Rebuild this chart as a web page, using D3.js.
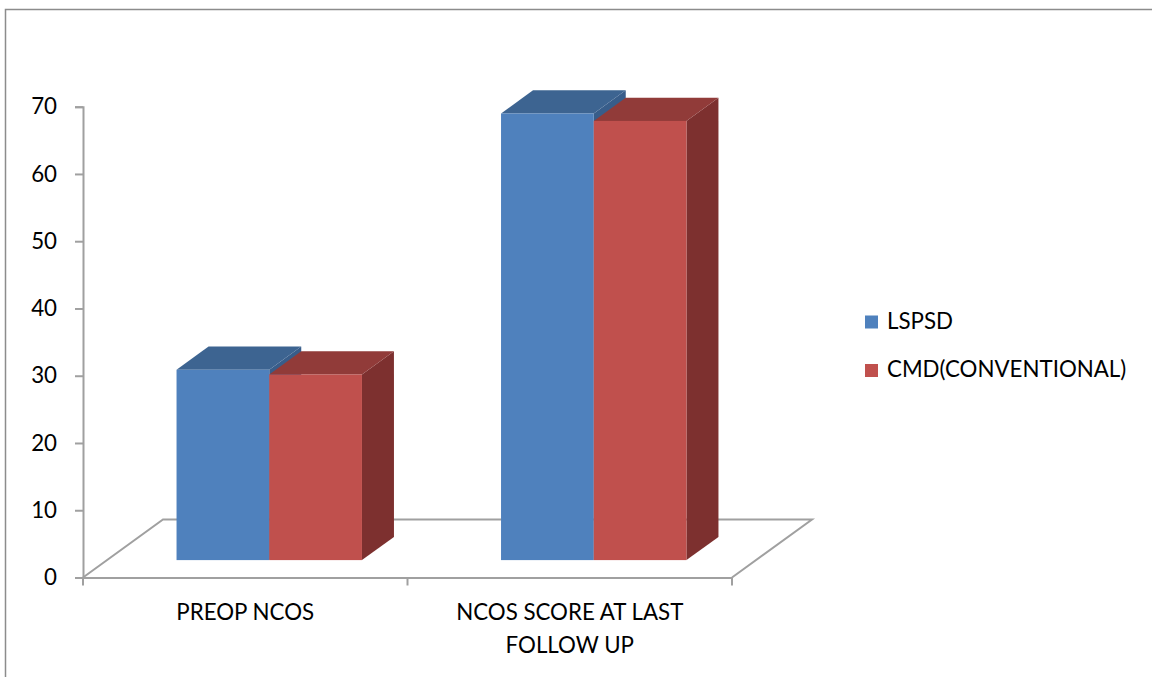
<!DOCTYPE html>
<html>
<head>
<meta charset="utf-8">
<script src="https://cdn.jsdelivr.net/npm/d3@7/dist/d3.min.js"></script>
<style>
  html, body { margin: 0; padding: 0; background: #fff; }
  svg { display: block; }
  text { font-family: Lato, "Open Sans", sans-serif; fill: #000; }
</style>
</head>
<body>
<svg id="chart" width="1152" height="677"></svg>
<script>
// NCOS scores by group
const categories = ["PREOP NCOS", "NCOS SCORE AT LAST FOLLOW UP"];
const seriesNames = ["LSPSD", "CMD(CONVENTIONAL)"];
const lspsd = [28.3, 66.4];
const cmd = [27.6, 65.3];
const yTicks = [0, 10, 20, 30, 40, 50, 60, 70];

const series = [
  { name: seriesNames[0], values: lspsd, front: "#4F81BD", top: "#3D6491", side: "#385D8A" },
  { name: seriesNames[1], values: cmd,   front: "#C0504D", top: "#913B39", side: "#7D302F" }
];

const svg = d3.select("#chart");

// Chart frame
svg.append("path")
  .attr("d", "M5.5,677 L5.5,9.5 L1152,9.5")
  .attr("fill", "none").attr("stroke", "#8c8c8c").attr("stroke-width", 1.5);

// Front-plane scales and the oblique depth vector of the floor
const y = d3.scaleLinear().domain([0, 70]).range([577.5, 106.7]);
const x = d3.scaleBand().domain(categories).range([83, 732]).paddingInner(0).paddingOuter(0);
const depth = { dx: 80, dy: -58 };
const gapWidth = 1.5, gapDepth = 1.5;
const barW = x.bandwidth() / (series.length + gapWidth);
const barDepth = 1 / (1 + 2 * gapDepth / 2);      // share of the floor depth
const frontFrac = (1 - barDepth) / 2;

const axisColor = "#a0a0a0";
const fontSize = "22.3px";

// Floor
const x0 = x.range()[0], x1 = x.range()[1], y0 = y(0);
svg.append("path")
  .attr("d", `M${x0},${y0} L${x0 + depth.dx},${y0 + depth.dy} L${x1 + depth.dx},${y0 + depth.dy} L${x1},${y0}`)
  .attr("fill", "none").attr("stroke", axisColor).attr("stroke-width", 2);

// Value axis
const yAxis = svg.append("g").attr("transform", `translate(${x0},0)`)
  .call(d3.axisLeft(y).tickValues(yTicks).tickSize(8).tickPadding(18).tickFormat(d3.format("d")));
yAxis.select(".domain").attr("stroke", axisColor).attr("stroke-width", 2);
yAxis.selectAll(".tick line").attr("stroke", axisColor).attr("stroke-width", 2);
yAxis.selectAll(".tick text").style("font-size", fontSize).attr("fill", "#000");

// Category axis
const xAxis = svg.append("g").attr("transform", `translate(0,${y0})`)
  .call(d3.axisBottom(x).tickSize(0).tickFormat(""));
xAxis.select(".domain").attr("stroke", axisColor).attr("stroke-width", 2);
const catTicks = [x0].concat(categories.map(c => x(c) + x.bandwidth()));
xAxis.selectAll(".cat-tick").data(catTicks).join("line")
  .attr("x1", d => d).attr("x2", d => d).attr("y1", 0).attr("y2", 8)
  .attr("stroke", axisColor).attr("stroke-width", 2);

// Category labels (wrapped onto two lines where long)
const labelLines = [["PREOP NCOS"], ["NCOS SCORE AT LAST", "FOLLOW UP"]];
categories.forEach((c, i) => {
  const t = svg.append("text")
    .attr("x", x(c) + x.bandwidth() / 2)
    .attr("y", 620)
    .attr("text-anchor", "middle")
    .style("font-size", fontSize);
  labelLines[i].forEach((ln, j) => {
    t.append("tspan").attr("x", x(c) + x.bandwidth() / 2).attr("dy", j === 0 ? 0 : 33).text(ln);
  });
});

// 3D bars
const fdx = depth.dx * frontFrac, fdy = depth.dy * frontFrac;
const bdx = depth.dx * barDepth, bdy = depth.dy * barDepth;
const bars = svg.append("g");
categories.forEach((c, ci) => {
  series.forEach((s, si) => {
    const left = x(c) + barW * gapWidth / 2 + si * barW + fdx;
    const right = left + barW;
    const base = y(0) + fdy;
    const top = y(s.values[ci]) + fdy;
    const g = bars.append("g");
    g.append("path")
      .attr("d", `M${right},${base} L${right + bdx},${base + bdy} L${right + bdx},${top + bdy} L${right},${top} Z`)
      .attr("fill", s.side);
    g.append("path")
      .attr("d", `M${left},${top} L${left + bdx},${top + bdy} L${right + bdx},${top + bdy} L${right},${top} Z`)
      .attr("fill", s.top);
    g.append("rect")
      .attr("x", left).attr("y", top).attr("width", barW).attr("height", base - top)
      .attr("fill", s.front);
  });
});

// Legend
const legend = svg.append("g");
series.forEach((s, i) => {
  const ly = 328.5 + i * 48.5;
  legend.append("rect").attr("x", 865).attr("y", ly - 13).attr("width", 13).attr("height", 13).attr("fill", s.front);
  legend.append("text").attr("x", 887).attr("y", ly).style("font-size", fontSize).text(s.name);
});
</script>
</body>
</html>
